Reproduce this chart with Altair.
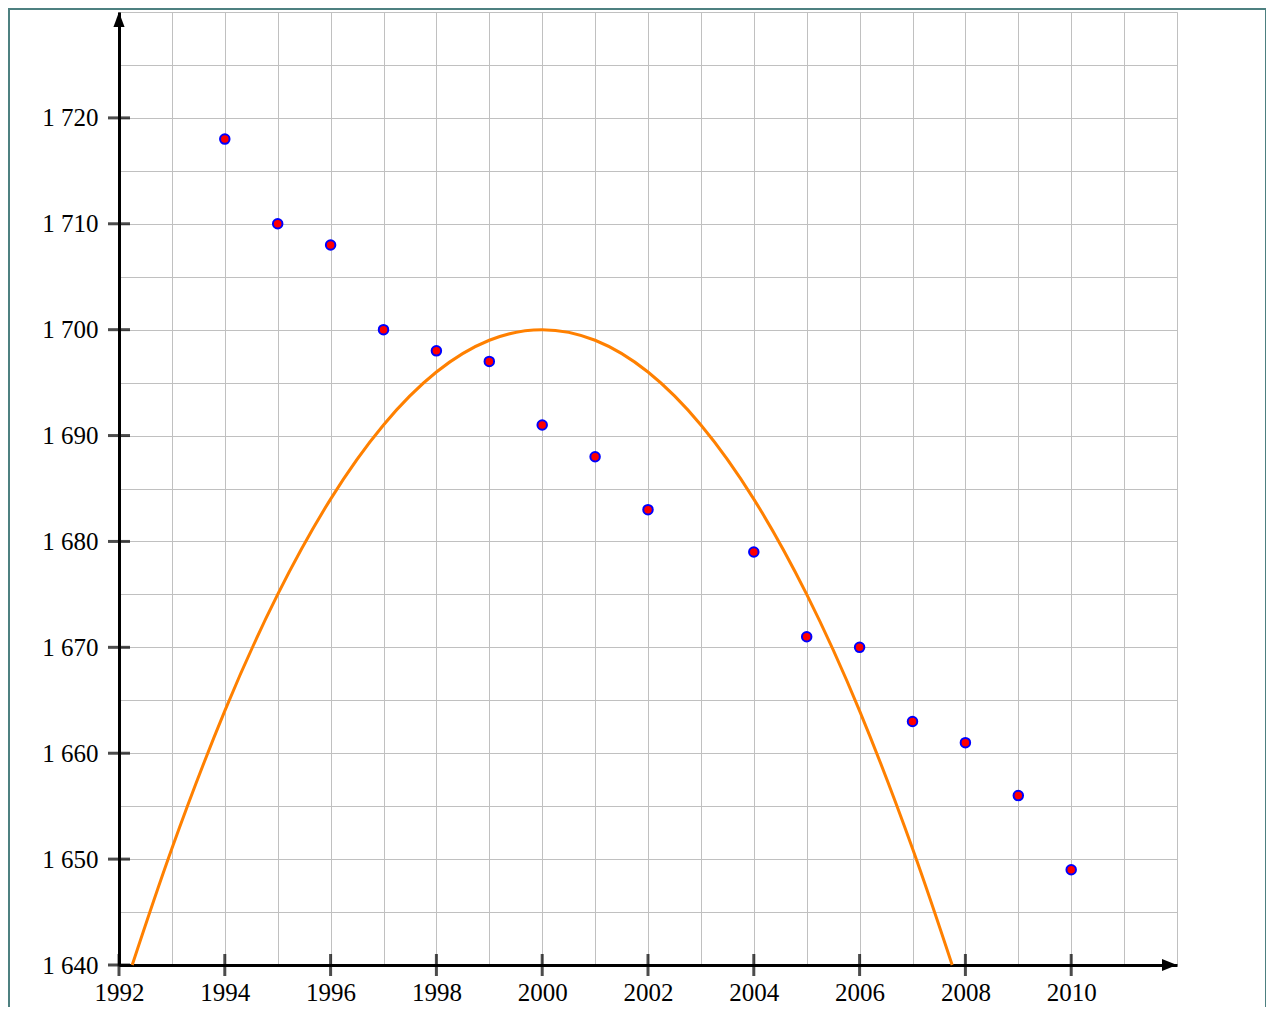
import altair as alt
import pandas as pd

# Observed data points
years = [1994, 1995, 1996, 1997, 1998, 1999, 2000, 2001, 2002, 2004, 2005, 2006, 2007, 2008, 2009, 2010]
values = [1718, 1710, 1708, 1700, 1698, 1697, 1691, 1688, 1683, 1679, 1671, 1670, 1663, 1661, 1656, 1649]

# Orange curve, points
curve_x = [1992.25, 1993, 1994, 1995, 1996, 1997, 1998, 1999, 2000, 2001, 2002, 2003, 2004, 2005, 2006, 2007, 2007.75]
curve_y = [1640, 1651, 1664, 1675, 1684, 1691, 1696, 1699, 1700, 1699, 1696, 1691, 1684, 1675, 1664, 1651, 1640]

# Axis ticks / grid
x_tick_years = [1992, 1994, 1996, 1998, 2000, 2002, 2004, 2006, 2008, 2010]
y_tick_vals = [1640, 1650, 1660, 1670, 1680, 1690, 1700, 1710, 1720]
grid_x = list(range(1992, 2013))
grid_y = list(range(1640, 1731, 5))
x_min, x_max = 1992, 2012
y_min, y_max = 1640, 1730

FONT = "Liberation Serif"

x_enc = alt.X(
    "year:Q",
    scale=alt.Scale(domain=[x_min, x_max], nice=False, zero=False),
    axis=alt.Axis(
        values=grid_x, grid=True, gridColor="#c0c0c0", gridWidth=1,
        ticks=False, tickSize=0, domain=True, domainColor="black", domainWidth=3,
        labelExpr="datum.value % 2 == 0 && datum.value < 2012 ? toString(datum.value) : ''",
        labelFont=FONT, labelFontSize=25, labelColor="black", labelPadding=15,
        labelFlush=False, labelOverlap=False, title=None,
    ),
)
y_enc = alt.Y(
    "value:Q",
    scale=alt.Scale(domain=[y_min, y_max], nice=False, zero=False),
    axis=alt.Axis(
        values=grid_y, grid=True, gridColor="#c0c0c0", gridWidth=1,
        ticks=False, tickSize=0, domain=True, domainColor="black", domainWidth=3,
        labelExpr="datum.value % 10 == 0 && datum.value < 1730 ? slice(toString(datum.value),0,1) + ' ' + slice(toString(datum.value),1) : ''",
        labelFont=FONT, labelFontSize=25, labelColor="black", labelPadding=21,
        labelOverlap=False, title=None,
    ),
)

pts_df = pd.DataFrame({"year": years, "value": values})
curve_df = pd.DataFrame({"year": curve_x, "value": curve_y})
xt_df = pd.DataFrame({"year": x_tick_years, "value": [y_min] * len(x_tick_years)})
yt_df = pd.DataFrame({"year": [x_min] * len(y_tick_vals), "value": y_tick_vals})
arrow_r = pd.DataFrame({"year": [x_max], "value": [y_min]})
arrow_u = pd.DataFrame({"year": [x_min], "value": [y_max]})

one = pd.DataFrame({"a": [0]})
FRAME = "#4d8080"
frame_l = alt.Chart(one).mark_rule(color=FRAME, strokeWidth=2).encode(
    x=alt.value(-110), y=alt.value(-4), y2=alt.value(1200))
frame_r = alt.Chart(one).mark_rule(color=FRAME, strokeWidth=2).encode(
    x=alt.value(1147), y=alt.value(-4), y2=alt.value(1200))
frame_t = alt.Chart(one).mark_rule(color=FRAME, strokeWidth=2).encode(
    x=alt.value(-111), x2=alt.value(1148), y=alt.value(-3))

curve = alt.Chart(curve_df).mark_line(
    color="#ff8000", strokeWidth=3, interpolate="natural"
).encode(x=x_enc, y=y_enc)

xticks = alt.Chart(xt_df).mark_tick(
    color="black", size=22, thickness=3, orient="vertical"
).encode(x=x_enc, y=y_enc)

yticks = alt.Chart(yt_df).mark_tick(
    color="black", size=22, thickness=3, orient="horizontal"
).encode(x=x_enc, y=y_enc)

arr_r = alt.Chart(arrow_r).mark_point(
    shape="M0,0L-1,-0.4L-1,0.4Z", size=900, filled=True, color="black", opacity=1, strokeWidth=0
).encode(x=x_enc, y=y_enc)

arr_u = alt.Chart(arrow_u).mark_point(
    shape="M0,0L-0.37,1L0.37,1Z", size=900, filled=True, color="black", opacity=1, strokeWidth=0
).encode(x=x_enc, y=y_enc)

points = alt.Chart(pts_df).mark_point(
    shape="circle", size=90, filled=True, fill="#ff0000", stroke="#0000ff",
    strokeWidth=2, opacity=1
).encode(x=x_enc, y=y_enc)

chart = alt.layer(frame_l, frame_r, frame_t, curve, xticks, yticks, arr_r, arr_u, points).properties(
    width=1058, height=953,
    autosize=alt.AutoSizeParams(type="none"),
    padding={"left": 111, "top": 4, "right": 89, "bottom": 42},
).configure_view(stroke=None).configure(background="white")

chart.save("out.html", embed_options={"renderer": "svg", "actions": False})
